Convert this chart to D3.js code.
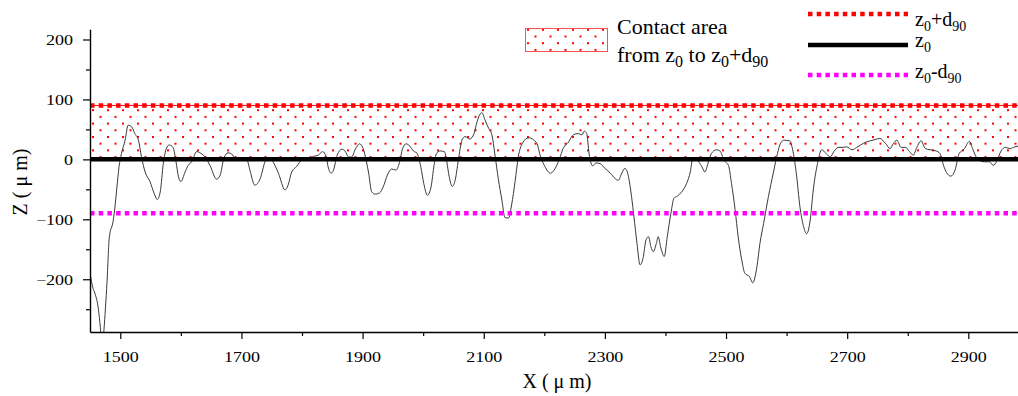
<!DOCTYPE html>
<html>
<head>
<meta charset="utf-8">
<script src="https://cdn.jsdelivr.net/npm/d3@7"></script>
<style>
  body { margin: 0; background: #fff; }
  svg text { font-family: "Liberation Serif", Tinos, "Times New Roman", serif !important; fill: #000; }
</style>
</head>
<body>
<div id="chart"></div>
<script>
// profile positions (um) and heights (um)
const xPos = [1450, 1455, 1458, 1464, 1467, 1470, 1473, 1478, 1482, 1488, 1490, 1494, 1498, 1502, 1508, 1513, 1519, 1524, 1530, 1535,
  1541, 1549, 1556, 1561, 1566, 1571, 1576, 1581, 1587, 1592, 1596, 1600, 1607, 1612, 1618, 1626, 1633, 1640, 1648, 1659,
  1665, 1671, 1678, 1684, 1689, 1698, 1709, 1714, 1722, 1731, 1739, 1744, 1752, 1761, 1772, 1777, 1783, 1791, 1800, 1808,
  1819, 1827, 1834, 1840, 1843, 1848, 1852, 1858, 1866, 1871, 1877, 1882, 1888, 1895, 1901, 1906, 1910, 1915, 1921, 1928,
  1934, 1941, 1948, 1955, 1961, 1966, 1972, 1978, 1984, 1990, 1996, 2001, 2007, 2013, 2018, 2022, 2028, 2035, 2039, 2043,
  2048, 2053, 2058, 2064, 2069, 2077, 2084, 2089, 2097, 2102, 2108, 2113, 2119, 2124, 2130, 2135, 2141, 2146, 2152, 2157,
  2164, 2174, 2187, 2194, 2201, 2210, 2218, 2225, 2231, 2240, 2248, 2256, 2262, 2266, 2270, 2274, 2280, 2285, 2292, 2300,
  2309, 2317, 2322, 2328, 2333, 2339, 2344, 2348, 2353, 2358, 2363, 2368, 2372, 2376, 2380, 2385, 2388, 2392, 2398, 2403,
  2409, 2414, 2420, 2427, 2435, 2441, 2445, 2452, 2460, 2465, 2471, 2476, 2484, 2490, 2497, 2504, 2509, 2515, 2520, 2526,
  2531, 2539, 2544, 2551, 2556, 2562, 2570, 2578, 2585, 2590, 2596, 2605, 2610, 2616, 2622, 2628, 2633, 2639, 2644, 2651,
  2658, 2665, 2672, 2678, 2685, 2693, 2699, 2708, 2716, 2727, 2738, 2746, 2754, 2763, 2771, 2776, 2782, 2789, 2796, 2803,
  2809, 2815, 2822, 2829, 2837, 2847, 2853, 2859, 2864, 2871, 2878, 2885, 2893, 2902, 2907, 2913, 2919, 2926, 2935, 2941,
  2947, 2954, 2961, 2969, 2977, 2982];
const zVal = [-190, -215, -223, -251, -280, -320, -285, -206, -129, -104, -90, -51, -12, 10, 32, 57, 54, 43, 32, 4,
  -21, -37, -57, -67, -54, -7, 18, 24, 20, -4, -29, -37, -21, -10, -4, 13, 10, 4, -10, -33,
  -26, 2, 11, 9, 2, 0, -1, -18, -43, -32, -4, 2, -4, -23, -51, -43, -21, -12, -1, 0,
  5, 7, 13, 4, -12, -23, -18, 7, 17, 14, 4, 4, 17, 26, 18, -2, -23, -54, -58, -56,
  -46, -26, -16, -18, -5, 18, 26, 22, 14, 10, -12, -40, -60, -46, -10, 10, 14, 13, -4, -29,
  -45, -34, -2, 32, 38, 34, 43, 63, 78, 66, 52, 43, 4, -32, -68, -97, -98, -76, -35, 4,
  27, 36, 28, 4, -12, -23, -15, 1, 18, 29, 41, 43, 41, 47, 43, 9, -11, -6, -7, -15,
  -23, -32, -35, -23, -15, -29, -62, -96, -140, -176, -165, -134, -129, -146, -154, -140, -129, -146, -162, -129,
  -90, -65, -61, -54, -40, -21, 1, -1, -12, -21, -4, 10, 16, 14, -2, -10, -40, -84, -129, -168,
  -190, -196, -206, -179, -140, -107, -62, -23, 10, 27, 32, 31, 16, -23, -79, -112, -124, -101, -51, -7,
  16, 10, 4, 13, 20, 20, 21, 16, 20, 27, 31, 33, 35, 27, 18, 26, 32, 20, 20, 13,
  7, 20, 31, 18, 16, 14, 10, -10, -22, -28, -18, 10, 17, 30, 18, 4, -2, -4, -4, -10,
  -3, 14, 20, 18, 21, 22];

const z0 = 0;
const d90 = 90;
const xMajor = [1500, 1700, 1900, 2100, 2300, 2500, 2700, 2900];
const xMinor = [1600, 1800, 2000, 2200, 2400, 2600, 2800];
const yMajor = [200, 100, 0, -100, -200];
const yMinor = [150, 50, -50, -150, -250];

const W = 1018, H = 396;
const margin = { left: 90, right: 1018, top: 29.3, bottom: 332 };
const sx = 1.2; // tick digits in the source are wide

const svg = d3.select('#chart').append('svg')
  .attr('width', W).attr('height', H);

const xScale = d3.scaleLinear().domain([1450, 2982]).range([margin.left, margin.right]);
const yScale = d3.scaleLinear().domain([-288, 217]).range([margin.bottom, margin.top]);

const defs = svg.append('defs');
const pat = defs.append('pattern')
  .attr('id', 'dots')
  .attr('patternUnits', 'userSpaceOnUse')
  .attr('width', 15).attr('height', 13.4)
  .attr('x', 92).attr('y', 2);
pat.append('rect').attr('x', 0).attr('y', 0).attr('width', 2).attr('height', 2).attr('fill', '#ff0000');
pat.append('rect').attr('x', 7.5).attr('y', 6.7).attr('width', 2).attr('height', 2).attr('fill', '#ff0000');

defs.append('clipPath').attr('id', 'plotClip')
  .append('rect')
  .attr('x', margin.left).attr('y', margin.top)
  .attr('width', margin.right - margin.left).attr('height', margin.bottom - margin.top);

// contact area
svg.append('rect')
  .attr('x', margin.left)
  .attr('y', yScale(z0 + d90))
  .attr('width', margin.right - margin.left)
  .attr('height', yScale(z0) - yScale(z0 + d90))
  .attr('fill', 'url(#dots)');
svg.append('line')
  .attr('x1', margin.left).attr('x2', margin.right)
  .attr('y1', yScale(z0 + d90)).attr('y2', yScale(z0 + d90))
  .attr('stroke', '#ff0000').attr('stroke-width', 1);

// profile
const line = d3.line()
  .x((d) => xScale(d[0]))
  .y((d) => yScale(d[1]))
  .curve(d3.curveMonotoneX);

svg.append('path')
  .datum(d3.zip(xPos, zVal))
  .attr('clip-path', 'url(#plotClip)')
  .attr('fill', 'none')
  .attr('stroke', '#3a3a3a')
  .attr('stroke-width', 1)
  .attr('d', line);

// reference levels
const levels = [
  { v: z0 + d90, color: '#ff0000', dash: '4.5,4.2' },
  { v: z0, color: '#000000', dash: null },
  { v: z0 - d90, color: '#ff00ff', dash: '4.5,4.2' }
];
levels.forEach((l) => {
  svg.append('line')
    .attr('x1', margin.left).attr('x2', margin.right)
    .attr('y1', yScale(l.v)).attr('y2', yScale(l.v))
    .attr('stroke', l.color)
    .attr('stroke-width', 4.5)
    .attr('stroke-dasharray', l.dash);
});

// axes
const xAxis = svg.append('g')
  .attr('transform', `translate(0, ${margin.bottom})`)
  .call(d3.axisBottom(xScale).tickValues(xMajor).tickFormat(d3.format('d')).tickSize(7).tickSizeOuter(0));
svg.append('g')
  .attr('transform', `translate(0, ${margin.bottom})`)
  .call(d3.axisBottom(xScale).tickValues(xMinor).tickSize(4).tickFormat('').tickSizeOuter(0))
  .select('.domain').remove();
xAxis.selectAll('.tick text')
  .attr('y', 30).attr('dy', 0)
  .attr('font-size', 15)
  .attr('transform', `scale(${sx},1)`);

const yAxis = svg.append('g')
  .attr('transform', `translate(${margin.left}, 0)`)
  .call(d3.axisLeft(yScale).tickValues(yMajor).tickSize(7).tickSizeOuter(0));
svg.append('g')
  .attr('transform', `translate(${margin.left}, 0)`)
  .call(d3.axisLeft(yScale).tickValues(yMinor).tickSize(4).tickFormat('').tickSizeOuter(0))
  .select('.domain').remove();
yAxis.selectAll('.tick text')
  .attr('x', -17 / sx)
  .attr('font-size', 15)
  .attr('transform', `scale(${sx},1)`);

svg.selectAll('.domain').attr('stroke-width', 1.4);
svg.selectAll('.tick line').attr('stroke-width', 1.2);

// axis titles
svg.append('text')
  .attr('x', 557).attr('y', 388)
  .attr('text-anchor', 'middle')
  .attr('font-size', 20)
  .text('X ( μ m)');

svg.append('text')
  .attr('transform', 'translate(27, 182) rotate(-90)')
  .attr('text-anchor', 'middle')
  .attr('font-size', 20)
  .text('Z ( μ m)');

// legend
function legendText(x, y, size, parts) {
  const sub = Math.round(size * 0.72);
  const t = svg.append('text')
    .attr('x', x).attr('y', y)
    .attr('font-size', size);
  parts.forEach((p) => {
    t.append('tspan')
      .attr('font-size', p.sub ? sub : size)
      .attr('dy', p.sub ? 5 : (p.after ? -5 : 0))
      .text(p.s);
  });
  return t;
}

svg.append('rect')
  .attr('x', 525.5).attr('y', 28.5)
  .attr('width', 82).attr('height', 23)
  .attr('fill', 'url(#dots)')
  .attr('stroke', '#ff5050').attr('stroke-width', 1);

legendText(617, 34, 22, [{ s: 'Contact area' }]);
legendText(617, 62, 22, [
  { s: 'from z' }, { s: '0', sub: true }, { s: ' to z', after: true }, { s: '0', sub: true },
  { s: '+d', after: true }, { s: '90', sub: true }
]);

const legendLines = [
  { y: 14, color: '#ff0000', dash: '4.5,4.2', ty: 26, parts: [{ s: 'z' }, { s: '0', sub: true }, { s: '+d', after: true }, { s: '90', sub: true }] },
  { y: 45, color: '#000000', dash: null, ty: 47, parts: [{ s: 'z' }, { s: '0', sub: true }] },
  { y: 75, color: '#ff00ff', dash: '4.5,4.2', ty: 78, parts: [{ s: 'z' }, { s: '0', sub: true }, { s: '-d', after: true }, { s: '90', sub: true }] }
];
legendLines.forEach((l) => {
  svg.append('line')
    .attr('x1', 808).attr('x2', 908)
    .attr('y1', l.y).attr('y2', l.y)
    .attr('stroke', l.color)
    .attr('stroke-width', 4.5)
    .attr('stroke-dasharray', l.dash);
  legendText(915, l.ty, 20, l.parts);
});
</script>
</body>
</html>
